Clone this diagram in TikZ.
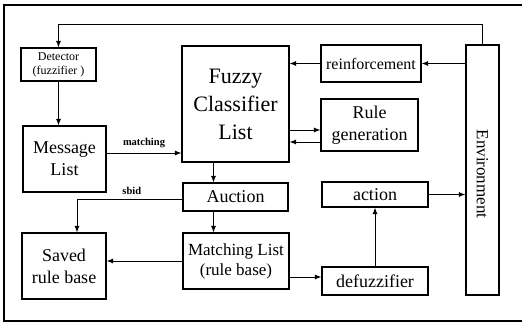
\documentclass[tikz,border=0pt]{standalone}
\usepackage{fontspec}
\setmainfont{Liberation Serif}
\usetikzlibrary{arrows.meta}
\usetikzlibrary{positioning}
\usetikzlibrary{calc}

\begin{document}
\begin{tikzpicture}[x=1pt, y=-1pt,
        blk/.style={draw, line width=1.1pt, align=center, inner sep=0pt},
        arr/.style={-{Latex[length=6.5pt,width=5pt]}, line width=1pt},
        lbl/.style={font=\bfseries\fontsize{10.5}{12}\selectfont}]
        \useasboundingbox (0,0) rectangle (522,324);
        \draw[line width=1.4pt] (4,5) rectangle (530,321);

        % blocks
        \node[blk, minimum width=75pt, minimum height=33pt, font=\fontsize{12}{14}\selectfont] (det) at (58.5,64.5) {Detector\\(fuzzifier )};
        \node[blk, minimum width=83pt, minimum height=66pt, font=\fontsize{18}{22}\selectfont] (msg) at (64.5,159) {Message\\List};
        \node[blk, minimum width=107pt, minimum height=116pt, font=\fontsize{22}{28}\selectfont] (fcl) at (235.5,104) {Fuzzy\\Classifier\\List};
        \node[blk, minimum width=100pt, minimum height=37pt, font=\fontsize{16}{18}\selectfont] (reinf) at (371,63.5) {reinforcement};
        \node[blk, minimum width=97pt, minimum height=52pt, font=\fontsize{18}{22}\selectfont] (rgen) at (369.5,125) {Rule\\generation};
        \node[blk, minimum width=33pt, minimum height=250pt] (env) at (482.5,170) {};
        \node[rotate=-90, font=\fontsize{17}{20}\selectfont] (envtxt) at ([yshift=-4pt]env.center) {Environment};
        \node[blk, minimum width=105pt, minimum height=28pt, font=\fontsize{18}{20}\selectfont] (auc) at (235.5,197) {Auction};
        \node[blk, minimum width=106pt, minimum height=25pt, font=\fontsize{18}{20}\selectfont] (act) at (375,194.5) {action};
        \node[blk, minimum width=84pt, minimum height=66pt, font=\fontsize{18}{22}\selectfont] (saved) at (64,266) {Saved\\rule base};
        \node[blk, minimum width=106pt, minimum height=56pt, font=\fontsize{17}{20}\selectfont] (mlist) at (236,261) {Matching List\\(rule base)};
        \node[blk, minimum width=106pt, minimum height=28pt, font=\fontsize{18}{20}\selectfont] (defz) at (375,281) {defuzzifier};

        % helper points
        \coordinate (m1) at ([yshift=6pt]msg.east);
        \coordinate (g1) at ([yshift=-5pt]rgen.west);
        \coordinate (g2) at ([yshift=-17pt]rgen.west);
        \coordinate (c1) at ([xshift=-22pt]fcl.south);
        \coordinate (d1) at ([yshift=4pt]defz.west);

        % connectors
        \draw[arr] (env.north) -- ++(0,-20) -| (det.north);
        \draw[arr] (det.south) -- (det.south |- msg.north);
        \draw[arr] (m1) -- (m1 -| fcl.west) node[lbl, midway, above=1pt] {matching};
        \draw[arr] (env.west |- reinf.east) -- (reinf.east);
        \draw[arr] (reinf.west) -- (reinf.west -| fcl.east);
        \draw[arr] (g1 -| fcl.east) -- (g1);
        \draw[arr] (g2) -- (g2 -| fcl.east);
        \draw[arr] (c1) -- (c1 |- auc.north);
        \draw[arr] (c1 |- auc.south) -- (c1 |- mlist.north);
        \draw[arr] ([yshift=-2pt]auc.west) -| ([xshift=13pt]saved.north) node[lbl, pos=0.24, above=1pt] {sbid};
        \draw[arr] (mlist.west) -- (mlist.west -| saved.east);
        \draw[arr] (d1 -| mlist.east) -- (d1);
        \draw[arr] (defz.north) -- (act.south);
        \draw[arr] (act.east) -- (act.east -| env.west);
    \end{tikzpicture}
\end{document}
